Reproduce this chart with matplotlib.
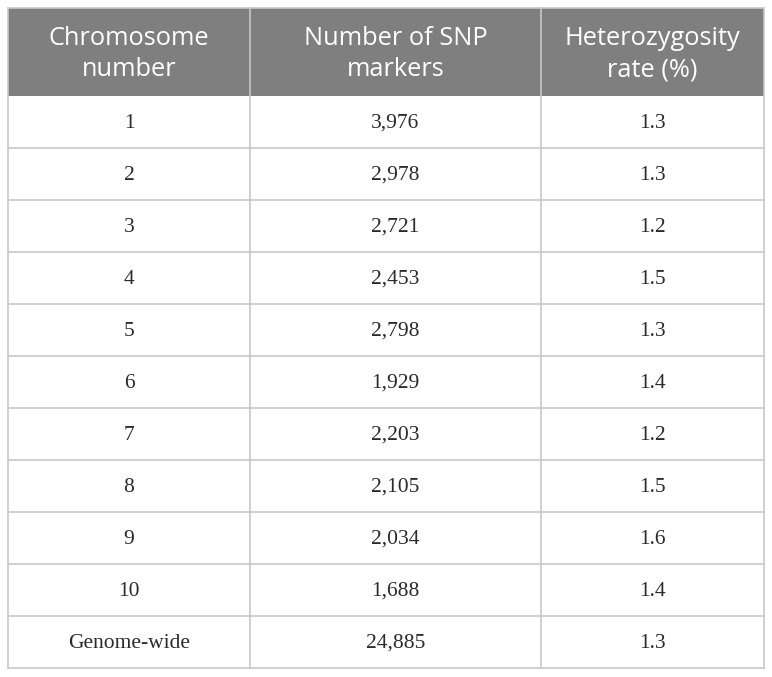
import matplotlib
matplotlib.use('Agg')
import matplotlib.pyplot as plt
from matplotlib.patches import Rectangle

# Table contents
headers = ["Chromosome\nnumber", "Number of SNP\nmarkers", "Heterozygosity\nrate (%)"]
chromosomes = ["1", "2", "3", "4", "5", "6", "7", "8", "9", "10", "Genome-wide"]
snp_counts = ["3,976", "2,978", "2,721", "2,453", "2,798", "1,929", "2,203",
              "2,105", "2,034", "1,688", "24,885"]
het_rates = ["1.3", "1.3", "1.2", "1.5", "1.3", "1.4", "1.2", "1.5", "1.6", "1.4", "1.3"]

W, H = 772, 677
fig = plt.figure(figsize=(W / 100, H / 100), dpi=100)
ax = fig.add_axes([0, 0, 1, 1])
ax.set_xlim(0, W)
ax.set_ylim(H, 0)
ax.axis('off')

# Layout in pixels
col_edges = [8, 250, 541, 764]
top, head_bottom = 8, 96
row_h = (668 - head_bottom) / len(chromosomes)
grid = '#c8c8c8'

# Header band
ax.add_patch(Rectangle((col_edges[0], top), col_edges[-1] - col_edges[0],
                       head_bottom - top, facecolor='#7f7f7f', edgecolor='none'))
for i, h in enumerate(headers):
    cx = (col_edges[i] + col_edges[i + 1]) / 2
    ax.text(cx, (top + head_bottom) / 2 + 2, h, ha='center', va='center',
            color='white', fontsize=18.3, family='Open Sans', linespacing=1.35)

# Body rows
rows = list(zip(chromosomes, snp_counts, het_rates))
for r, vals in enumerate(rows):
    y0 = head_bottom + r * row_h
    for i, v in enumerate(vals):
        cx = (col_edges[i] + col_edges[i + 1]) / 2
        ax.text(cx, y0 + row_h / 2 + 1, v, ha='center', va='center',
                color='#2a2a2a', fontsize=15.5, family='Liberation Serif')
    ax.plot([col_edges[0], col_edges[-1]], [y0 + row_h, y0 + row_h],
            color=grid, lw=1.2)

# Vertical lines
bottom = head_bottom + len(rows) * row_h
for x in col_edges:
    ax.plot([x, x], [top, bottom], color=grid, lw=1.2)
ax.plot([col_edges[0], col_edges[-1]], [top, top], color=grid, lw=1.2)

fig.savefig('out.png', dpi=100, facecolor='white')
